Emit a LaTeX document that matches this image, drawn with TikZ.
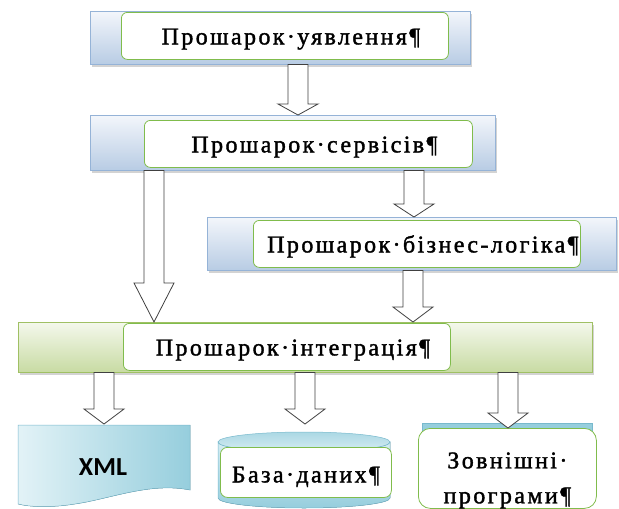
\documentclass[tikz,border=0pt]{standalone}
\usepackage{fontspec}
\setmainfont{Liberation Serif}
\newfontfamily\layerfont[LetterSpace=10,FakeBold=1.5]{Liberation Serif}
\newfontfamily\xmlfont{Carlito}
\usetikzlibrary{calc,shadows}
\definecolor{bandBlueTop}{RGB}{243,246,251}
\definecolor{bandBlueBot}{RGB}{184,204,228}
\definecolor{bandBlueLine}{RGB}{149,179,215}
\definecolor{bandGreenTop}{RGB}{244,248,236}
\definecolor{bandGreenBot}{RGB}{200,219,163}
\definecolor{bandGreenLine}{RGB}{160,192,100}
\definecolor{boxGreen}{RGB}{128,188,76}
\definecolor{docLight}{RGB}{214,237,243}
\definecolor{docDark}{RGB}{150,206,221}
\definecolor{docLine}{RGB}{120,185,205}
\definecolor{arrowGray}{RGB}{64,64,64}

\tikzset{
  band/.style={draw=bandBlueLine, top color=bandBlueTop, bottom color=bandBlueBot,
    anchor=north west, inner sep=0pt,
    drop shadow={shadow xshift=1.5pt, shadow yshift=-3pt, opacity=.35}},
  greenband/.style={band, draw=bandGreenLine, top color=bandGreenTop, bottom color=bandGreenBot},
  layerbox/.style={draw=boxGreen, fill=white, line width=0.8pt, rounded corners=6pt,
    anchor=north west, inner sep=0pt, font=\layerfont\fontsize{24}{30}\selectfont},
  oneline/.style={text height=17pt, text depth=0pt},
  hollow/.style={draw=arrowGray, fill=white, line width=0.8pt, line join=miter}
}

% block arrow: [head length]{start}{tip}
\newcommand{\hollowarrow}[3][13pt]{%
  \draw[hollow] let \p1=(#2), \p2=(#3) in
    (\x1-10pt,\y1) -- (\x1-10pt,\y2+#1) -- (\x1-20pt,\y2+#1) -- (\x1,\y2)
    -- (\x1+20pt,\y2+#1) -- (\x1+10pt,\y2+#1) -- (\x1+10pt,\y1) -- cycle;}

\begin{document}
\begin{tikzpicture}[x=1pt,y=-1pt]
  \useasboundingbox (0,0) rectangle (619,509);

  % layers
  \node[band, minimum width=380pt, minimum height=53pt] (showBand) at (90,11) {};
  \node[layerbox, oneline, minimum width=327pt, minimum height=47pt] (showBox) at (121,12)
    {\hspace*{12pt}Прошарок·уявлення¶};

  \node[band, minimum width=405pt, minimum height=55pt] (srvBand) at (90,115) {};
  \node[layerbox, oneline, minimum width=328pt, minimum height=47pt] (srvBox) at (144,120)
    {\hspace*{12pt}Прошарок·сервісів¶};

  \node[band, minimum width=409pt, minimum height=53pt] (bizBand) at (207,217) {};
  \node[layerbox, oneline, minimum width=327pt, minimum height=47pt] (bizBox) at (253,220)
    {\hspace*{12pt}Прошарок·бізнес-логіка¶};

  \node[greenband, minimum width=574pt, minimum height=50pt] (integBand) at (18,322) {};
  \node[layerbox, oneline, minimum width=327pt, minimum height=47pt] (integBox) at (123,323)
    {\hspace*{12pt}Прошарок·інтеграція¶};

  % data sources
  \coordinate (xml) at (104,424);
  \fill[left color=docLight!70!white, right color=docDark, draw=docLine, line width=0.5pt]
    (18,425) -- (190,425) -- (190,490)
    .. controls (150,482) and (110,499) .. (75,504)
    .. controls (50,508) and (30,507) .. (18,504) -- cycle;
  \node[font=\xmlfont\bfseries\fontsize{26}{28}\selectfont] (xmlText) at (103,467) {XML};

  \coordinate (db) at (305,424);
  \fill[top color=docLight, bottom color=docDark, draw=docLine, line width=0.5pt]
    (218,442) -- (218,498) arc[start angle=180, end angle=0, x radius=86, y radius=10]
    -- (390,442) arc[start angle=0, end angle=180, x radius=86, y radius=10] -- cycle;
  \draw[top color=docDark!80, bottom color=docLight, draw=docLine, line width=0.5pt]
    (304,442) ellipse[x radius=86, y radius=10];
  \node[layerbox, minimum width=171pt, minimum height=50pt, rounded corners=7pt,
    text height=20pt, text depth=0pt] (dbBox) at (220,447) {База·даних¶};

  \fill[docDark, draw=docLine, line width=0.5pt] (422,423) rectangle (592,440);
  \node[layerbox, minimum width=178pt, minimum height=80pt, rounded corners=12pt]
    (ext) at (418,428)
    {\parbox[c][80pt][t]{178pt}{\centering\vspace*{24pt}%
      \fontsize{24}{35}\selectfont Зовнішні·\\програми¶}};

  % arrows
  \hollowarrow[11pt]{showBand.south -| 298,0}{srvBand.north -| 298,0}
  \hollowarrow[39pt]{srvBand.south -| 154,0}{integBand.north -| 154,0}
  \hollowarrow[13pt]{srvBand.south -| 414,0}{bizBand.north -| 414,0}
  \hollowarrow[15pt]{bizBand.south -| 413,0}{integBand.north -| 413,0}
  \foreach \ax/\t in {104/xml, 305/db, 508/ext.north}
    \hollowarrow[15pt]{integBand.south -| \ax,0}{\t -| \ax,0};
\end{tikzpicture}
\end{document}
